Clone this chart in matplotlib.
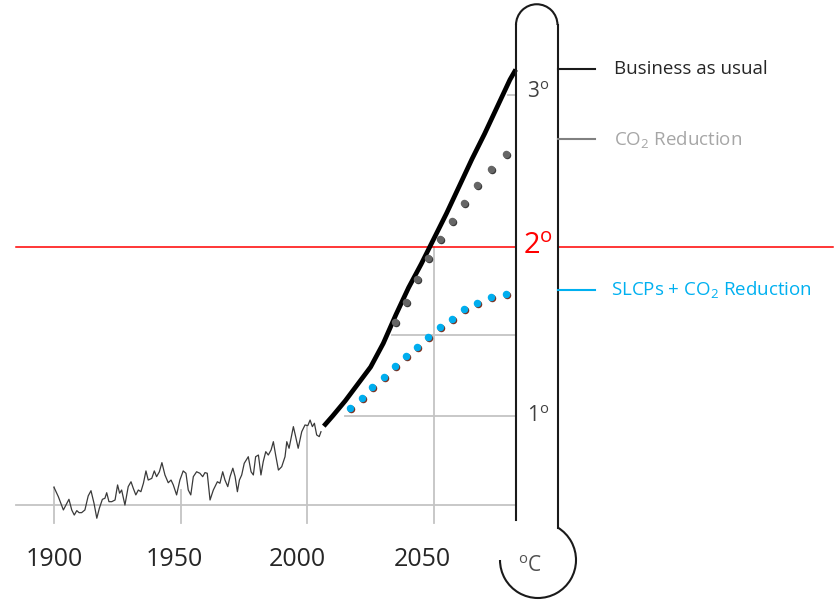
import matplotlib
matplotlib.use('Agg')
import matplotlib.pyplot as plt
from matplotlib.patches import Arc
from matplotlib.transforms import ScaledTranslation

plt.rcParams['font.family'] = ['Open Sans', 'DejaVu Sans']
plt.rcParams['mathtext.default'] = 'regular'

# ---------------- data ----------------
hist_years = [1900.0, 1901.7, 1903.7, 1905.9, 1907.0, 1908.0, 1909.0, 1909.9, 1910.9, 1912.2,
              1913.5, 1914.6, 1915.8, 1916.9, 1917.9, 1919.1, 1920.1, 1920.8, 1921.7, 1922.8,
              1924.1, 1925.1, 1925.9, 1926.7, 1928.0, 1929.3, 1930.4, 1931.3, 1932.3, 1933.3,
              1934.3, 1935.3, 1936.3, 1937.2, 1938.6, 1939.6, 1940.5, 1941.6, 1942.6, 1943.8,
              1945.1, 1946.2, 1947.1, 1948.4, 1949.7, 1951.0, 1952.1, 1953.0, 1954.0, 1955.0,
              1956.3, 1957.6, 1958.7, 1959.6, 1960.5, 1961.6, 1962.9, 1964.5, 1965.5, 1966.6,
              1967.5, 1968.6, 1969.5, 1970.6, 1971.5, 1972.4, 1973.2, 1974.1, 1975.1, 1976.7,
              1977.8, 1978.7, 1979.6, 1980.7, 1981.7, 1982.6, 1983.6, 1984.6, 1985.7, 1986.6,
              1987.5, 1988.6, 1989.9, 1991.2, 1991.9, 1992.8, 1994.5, 1995.4, 1996.4, 1997.8,
              1999.1, 2000.2, 2001.1, 2002.0, 2002.8, 2003.7, 2004.7, 2005.4]
hist_temps = [0.578, 0.523, 0.444, 0.507, 0.444, 0.414, 0.440, 0.428, 0.428, 0.444,
              0.527, 0.558, 0.483, 0.395, 0.454, 0.507, 0.513, 0.546, 0.493, 0.493,
              0.503, 0.592, 0.543, 0.562, 0.473, 0.582, 0.611, 0.572, 0.533, 0.562,
              0.552, 0.602, 0.675, 0.621, 0.631, 0.675, 0.641, 0.670, 0.724, 0.651,
              0.605, 0.621, 0.592, 0.533, 0.621, 0.675, 0.661, 0.562, 0.533, 0.641,
              0.670, 0.661, 0.641, 0.665, 0.661, 0.503, 0.562, 0.611, 0.602, 0.670,
              0.621, 0.582, 0.641, 0.691, 0.641, 0.552, 0.621, 0.651, 0.720, 0.759,
              0.670, 0.651, 0.759, 0.769, 0.651, 0.730, 0.789, 0.769, 0.799, 0.848,
              0.769, 0.680, 0.700, 0.759, 0.848, 0.809, 0.937, 0.878, 0.809, 0.907,
              0.947, 0.943, 0.976, 0.937, 0.957, 0.888, 0.878, 0.907]

bau_years = [2006.5, 2010, 2015, 2020, 2025, 2030, 2035, 2040, 2045, 2050,
             2055, 2060, 2065, 2070, 2075, 2080, 2082.3]
bau_temps = [0.94, 1.00, 1.09, 1.19, 1.29, 1.43, 1.60, 1.76, 1.90, 2.05,
             2.20, 2.36, 2.52, 2.67, 2.83, 2.99, 3.05]

co2_years = [2034.6, 2039.0, 2043.2, 2047.8, 2052.4, 2057.0, 2061.9, 2067.1, 2072.4, 2078.3]
co2_temps = [1.558, 1.676, 1.811, 1.933, 2.047, 2.156, 2.259, 2.367, 2.460, 2.550]

slcp_years = [2016.9, 2021.5, 2025.7, 2030.3, 2034.6, 2039.0, 2043.2, 2047.8, 2052.4,
              2057.0, 2061.9, 2067.1, 2072.4, 2078.3]
slcp_temps = [1.049, 1.108, 1.173, 1.232, 1.296, 1.355, 1.410, 1.469, 1.528,
              1.574, 1.631, 1.670, 1.702, 1.720]

year_labels = ['1900', '1950', '2000', '2050']
drop_years = [1900, 1950, 2000, 2050]
drop_tops = [0.58, 0.56, 0.94, 2.0]
level_temps = [1.0, 1.48, 2.9]
level_starts = [2014.9, 2033.4, 2079.2]
limit_temp = 2.0
baseline_temp = 0.473
scenario_labels = ['Business as usual', 'CO$_2$ Reduction', 'SLCPs + CO$_2$ Reduction']

# ---------------- figure ----------------
fig = plt.figure(figsize=(8.35, 6.0), dpi=100)
ax = fig.add_axes([0, 0, 1, 1])
ax.set_xlim(1878.68, 2208.33)
ax.set_ylim(-0.0888, 3.4615)
ax.axis('off')

thermo_left = 2082.4
grid_c = '#c4c4c4'

# baseline and drop lines
ax.plot([1885.0, thermo_left], [baseline_temp, baseline_temp], color=grid_c, lw=1.3, zorder=1)
for yr, top in zip(drop_years, drop_tops):
    ax.plot([yr, yr], [0.367, top], color=grid_c, lw=1.3, zorder=1)
for t, s in zip(level_temps, level_starts):
    ax.plot([s, thermo_left], [t, t], color=grid_c, lw=1.3, zorder=1)

# 2 degree limit line
ax.plot([1885.0, thermo_left], [limit_temp, limit_temp], color='#ff0000', lw=1.1, zorder=2)
ax.plot([2099.0, 2207.5], [limit_temp, limit_temp], color='#ff0000', lw=1.1, zorder=2)

# historical
ax.plot(hist_years, hist_temps, color='#3a3a3a', lw=0.9, zorder=3, solid_joinstyle='round')
# business as usual
ax.plot(bau_years, bau_temps, color='black', lw=3.4, solid_capstyle='butt',
        solid_joinstyle='round', zorder=4)

# dotted scenarios with small shadow
shadow = ax.transData + ScaledTranslation(1.0 / 100, -1.0 / 100, fig.dpi_scale_trans)
ax.plot(co2_years, co2_temps, 'o', ms=5.4, color='#3a3a3a', mec='none', transform=shadow, zorder=4)
ax.plot(co2_years, co2_temps, 'o', ms=5.4, color='#666666', mec='none', zorder=5)
ax.plot(slcp_years, slcp_temps, 'o', ms=5.4, color='#7a3020', mec='none', transform=shadow, zorder=4)
ax.plot(slcp_years, slcp_temps, 'o', ms=5.4, color='#00aeef', mec='none', zorder=5)

# ---------------- thermometer overlay (pixel coordinates) ----------------
ov = fig.add_axes([0, 0, 1, 1], facecolor='none')
ov.set_xlim(0, 835)
ov.set_ylim(600, 0)
ov.axis('off')
tc = '#1a1a1a'
ov.plot([516, 516], [25, 520], color=tc, lw=1.5)
ov.plot([557.5, 557.5], [25, 528], color=tc, lw=1.5)
ov.add_patch(Arc((536.75, 25), 41.5, 41.5, theta1=180, theta2=360, color=tc, lw=1.5))
ov.add_patch(Arc((538, 560), 76, 76, theta1=-58.6, theta2=180, color=tc, lw=1.5))

# scenario ticks and labels
tick_cols = ['#1a1a1a', '#808080', '#00b0f0']
text_cols = ['#262626', '#a6a6a6', '#00b0f0']
tick_y = [69, 139, 290]
text_x = [614, 614, 611]
for lab, ty, tcx, cc, tcol in zip(scenario_labels, tick_y, text_x, tick_cols, text_cols):
    ov.plot([557.5, 595], [ty, ty], color=cc, lw=1.5)
    ov.text(tcx, ty, lab, color=tcol, fontsize=13.5, ha='left', va='center')

# temperature labels inside thermometer
ov.text(538, 92, '3$^o$', color='#404040', fontsize=15, ha='center', va='center')
ov.text(538, 416, '1$^o$', color='#404040', fontsize=15, ha='center', va='center')
ov.text(538, 246, '2$^o$', color='#ff0000', fontsize=21, ha='center', va='center')
ov.text(530, 567, '$^o$C', color='#505050', fontsize=15, ha='center', va='center')

# year labels
for lab, lx in zip(year_labels, [54, 174, 297, 422]):
    ov.text(lx, 559, lab, color='#262626', fontsize=18, ha='center', va='center')

fig.savefig('out.png', dpi=100)
